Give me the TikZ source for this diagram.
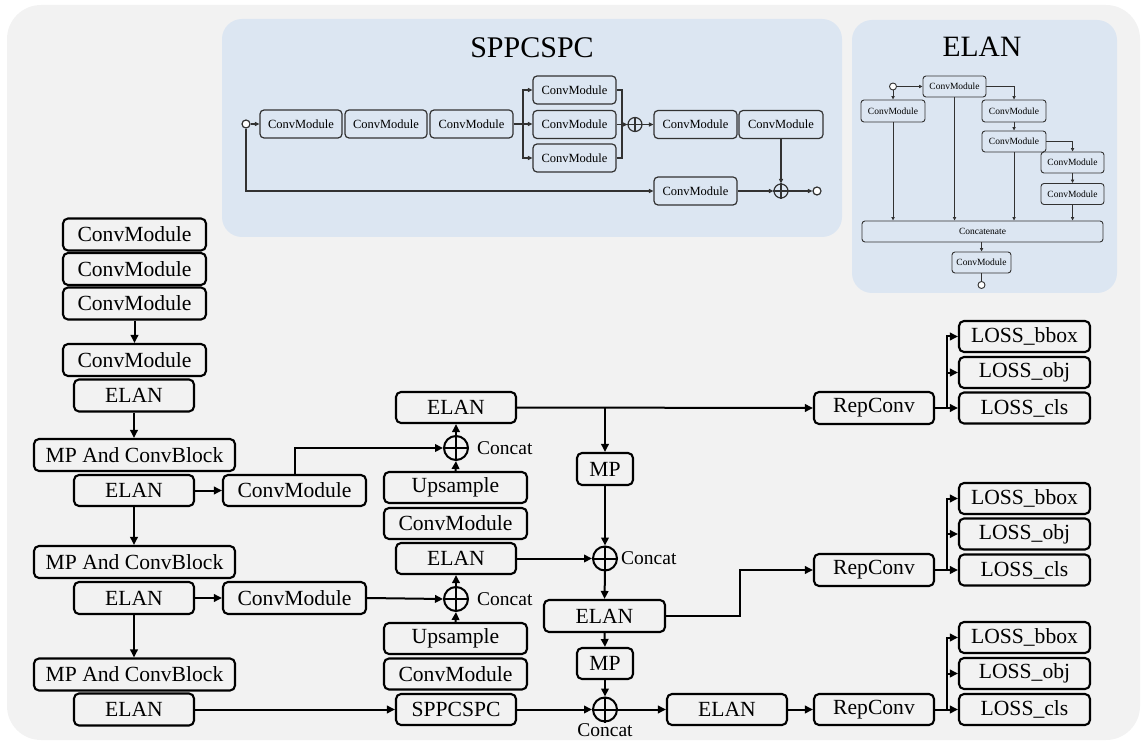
\documentclass[tikz,border=0pt]{standalone}
\usepackage{fontspec}
\setmainfont{Liberation Serif}
\usetikzlibrary{arrows.meta,calc}
\definecolor{bgc}{RGB}{242,242,242}
\definecolor{panelc}{RGB}{220,230,242}
\definecolor{pline}{RGB}{50,50,50}
\tikzset{
  mbox/.style={draw=black, fill=bgc, rounded corners=5pt, line width=2.1pt, inner sep=0pt,
    minimum height=31pt, font=\fontsize{21.6}{21.6}\selectfont},
  mline/.style={line width=2pt, draw=black},
  marr/.style={mline, -{Triangle[length=8pt,width=7.5pt]}},
  oplus/.style={circle, draw=black, line width=2pt, minimum size=24pt, inner sep=0pt},
  clabel/.style={font=\fontsize{19.5}{19.5}\selectfont, inner sep=0pt},
  pbox/.style={draw=pline, fill=panelc, rounded corners=4pt, line width=1.2pt, inner sep=0pt,
    minimum height=28pt, minimum width=83pt, font=\fontsize{12.5}{12.5}\selectfont},
  pline/.style={line width=1.2pt, draw=pline},
  parr/.style={pline, -{Triangle[length=4.5pt,width=4pt]}},
  poplus/.style={circle, draw=pline, line width=1.2pt, minimum size=14pt, inner sep=0pt},
  pio/.style={circle, draw=pline, fill=white, line width=1.2pt, minimum size=8pt, inner sep=0pt},
  ebox/.style={draw=pline, fill=panelc, rounded corners=3pt, line width=0.9pt, inner sep=0pt,
    minimum height=21pt, minimum width=63pt, font=\fontsize{9.5}{9.5}\selectfont},
  eline/.style={line width=0.9pt, draw=pline},
  earr/.style={eline, -{Triangle[length=3.5pt,width=3.2pt]}},
  eio/.style={circle, draw=pline, fill=white, line width=0.9pt, minimum size=7pt, inner sep=0pt},
}
\begin{document}
\begin{tikzpicture}[x=1pt,y=-1pt]
\useasboundingbox (0,0) rectangle (1146,743);
\fill[bgc, rounded corners=34pt] (7,5) rectangle (1140,740);

% ---------------- SPPCSPC panel ----------------
\fill[panelc, rounded corners=20pt] (222,19) rectangle (842,237);
\node[font=\fontsize{30}{30}\selectfont, inner sep=0pt] (spptitle) at (532,48) {SPPCSPC};
\node[pio] (pin) at (246,124) {};
\node[pbox, minimum width=82pt] (sa) at (301,124) {ConvModule};
\node[pbox, minimum width=82pt] (sb) at (386,124) {ConvModule};
\node[pbox] (sc) at (471.5,124) {ConvModule};
\node[pbox] (s1) at (574.5,90) {ConvModule};
\node[pbox] (s2) at (574.5,124.5) {ConvModule};
\node[pbox] (s3) at (574.5,158) {ConvModule};
\node[poplus] (sp) at (635,124.5) {};
\draw[pline] (sp.north)--(sp.south) (sp.west)--(sp.east);
\node[pbox] (sd) at (695.5,124.5) {ConvModule};
\node[pbox, minimum width=84pt] (se) at (781,124.5) {ConvModule};
\node[pbox] (sf) at (695.5,191) {ConvModule};
\node[poplus] (sq) at (781,191) {};
\draw[pline] (sq.north)--(sq.south) (sq.west)--(sq.east);
\node[pio] (pout) at (817,191) {};
\coordinate (sj) at (523,124);
\coordinate (sk) at (622,124.5);
\draw[parr] (pin) -- (sa.west);
\draw[pline] (sc.east) -- (sj);
\draw[parr] (sj) |- (s1.west);
\draw[parr] (sj) |- (s3.west);
\draw[parr] (sj) -- (s2.west |- sj);
\draw[pline] (s1.east) -| (sk);
\draw[pline] (s3.east) -| (sk);
\draw[parr] (s2.east) -- (sp.west);
\draw[parr] (sp.east) -- (sd.west);
\draw[parr] (se.south) -- (sq.north);
\draw[parr] (pin.south) |- (sf.west);
\draw[parr] (sf.east) -- (sq.west);
\draw[parr] (sq.east) -- (pout.west);

% ---------------- ELAN panel ----------------
\fill[panelc, rounded corners=20pt] (852,20) rectangle (1117,293);
\node[font=\fontsize{29.5}{29.5}\selectfont, inner sep=0pt] (elantitle) at (982,47) {ELAN};
\node[eio] (ein) at (893,86.5) {};
\node[ebox] (et) at (954.5,86.5) {ConvModule};
\node[ebox, minimum width=64pt, minimum height=22pt] (el) at (893,111) {ConvModule};
\node[ebox, minimum width=64pt, minimum height=22pt] (er1) at (1014,111) {ConvModule};
\node[ebox, minimum width=64pt] (er2) at (1014,141.5) {ConvModule};
\node[ebox] (er3) at (1072.5,162.5) {ConvModule};
\node[ebox] (er4) at (1072.5,194) {ConvModule};
\node[ebox, minimum width=241pt] (ecat) at (982.5,231.5) {Concatenate};
\node[ebox, minimum width=59pt] (eb) at (981.5,262.5) {ConvModule};
\node[eio] (eout) at (981.5,285) {};
\draw[earr] (ein.east) -- (et.west);
\draw[earr] (ein.south) -- (el.north);
\draw[earr] (et.east) -| (er1.north);
\draw[earr] (er1.south) -- (er2.north);
\draw[earr] (er2.east) -| (er3.north);
\draw[earr] (er3.south) -- (er4.north);
\draw[earr] (el.south) -- (el.south |- ecat.north);
\draw[earr] (et.south) -- (et.south |- ecat.north);
\draw[earr] (er2.south) -- (er2.south |- ecat.north);
\draw[earr] (er4.south) -- (er4.south |- ecat.north);
\draw[earr] (ecat.south -| eb) -- (eb.north);
\draw[eline] (eb.south) -- (eout.north);

% ---------------- Backbone ----------------
\node[mbox, minimum width=143pt, minimum height=32pt] (cm1) at (134.5,234.5) {ConvModule};
\node[mbox, minimum width=143pt, minimum height=32pt] (cm2) at (134.5,269) {ConvModule};
\node[mbox, minimum width=143pt, minimum height=32pt] (cm3) at (134.5,303.5) {ConvModule};
\node[mbox, minimum width=143pt, minimum height=32pt] (cm4) at (134.5,360) {ConvModule};
\node[mbox, minimum width=120pt, minimum height=32pt] (e1) at (134,395.5) {ELAN};
\node[mbox, minimum width=201pt, minimum height=32pt] (mp1) at (134.5,455) {MP And ConvBlock};
\node[mbox, minimum width=120pt] (e2) at (134,490.5) {ELAN};
\node[mbox, minimum width=143pt] (cmA) at (294.5,490.5) {ConvModule};
\node[mbox, minimum width=201pt, minimum height=32pt] (mp2) at (134.5,562) {MP And ConvBlock};
\node[mbox, minimum width=120pt, minimum height=32pt] (e3) at (134,598) {ELAN};
\node[mbox, minimum width=143pt, minimum height=32pt] (cmB) at (294.5,598) {ConvModule};
\node[mbox, minimum width=201pt, minimum height=32pt] (mp3) at (134.5,674.5) {MP And ConvBlock};
\node[mbox, minimum width=120pt, minimum height=32pt] (e4) at (134,709.5) {ELAN};

\draw[marr] (cm3.south) -- (cm4.north);
\draw[marr] (e1.south) -- (e1.south |- mp1.north);
\draw[marr] (e2.south) -- (e2.south |- mp2.north);
\draw[marr] (e3.south) -- (e3.south |- mp3.north);
\draw[marr] (e2.east) -- (cmA.west);
\draw[marr] (e3.east) -- (cmB.west);

% ---------------- Neck ----------------
\node[mbox, minimum width=120pt] (nT) at (456,407.5) {ELAN};
\node[oplus] (c1) at (456,448) {};
\node[mbox, minimum width=143pt] (up1) at (455.5,487.5) {Upsample};
\node[mbox, minimum width=143pt] (cu1) at (455.5,523.5) {ConvModule};
\node[mbox, minimum width=120pt] (nM) at (456,558.5) {ELAN};
\node[oplus] (c2) at (456,599) {};
\node[mbox, minimum width=143pt] (up2) at (455.5,638.5) {Upsample};
\node[mbox, minimum width=143pt] (cu2) at (455.5,674) {ConvModule};
\node[mbox, minimum width=120pt] (spp) at (456,709.5) {SPPCSPC};
\node[mbox, minimum width=56pt, minimum height=32pt] (mpA) at (605,469) {MP};
\node[oplus] (c3) at (605,558.5) {};
\node[mbox, minimum width=121pt, minimum height=32pt] (nR) at (604.5,616) {ELAN};
\node[mbox, minimum width=56pt] (mpB) at (605,663.5) {MP};
\node[oplus] (c4) at (605,709.5) {};
\node[mbox, minimum width=120pt] (nBR) at (727,709.5) {ELAN};
\foreach \c in {c1,c2,c3,c4}{
  \draw[mline] (\c.north) -- (\c.south) (\c.west) -- (\c.east);
}
\node[clabel, anchor=west] (l1) at ([xshift=8pt]c1.east) {Concat};
\node[clabel, anchor=west] (l2) at ([xshift=8pt]c2.east) {Concat};
\node[clabel, anchor=west] (l3) at ([xshift=3pt]c3.east) {Concat};
\node[clabel] (l4) at (605,730) {Concat};

\draw[marr] (cmA.north) |- (c1.west);
\draw[marr] (cmB.east) -- (c2.west);
\draw[marr] (e4.east) -- (spp.west);
\draw[marr] (up1.north) -- (c1.south);
\draw[marr] (c1.north) -- (nT.south);
\draw[marr] (up2.north) -- (c2.south);
\draw[marr] (c2.north) -- (nM.south);

% ---------------- Head ----------------
\node[mbox, minimum width=120pt, minimum height=32pt] (r1) at (874,408) {RepConv};
\node[mbox, minimum width=120pt, minimum height=32pt] (r2) at (874,570) {RepConv};
\node[mbox, minimum width=120pt] (r3) at (874,709.5) {RepConv};
\foreach \g/\yb/\yo/\yc in {1/336.5/372.5/408, 2/498.5/534/570, 3/637.5/673.5/709.5}{
  \node[mbox, minimum width=131pt] (bb\g) at (1024.5,\yb) {LOSS\_bbox};
  \node[mbox, minimum width=131pt] (ob\g) at (1024.5,\yo) {LOSS\_obj};
  \node[mbox, minimum width=131pt] (cl\g) at (1024.5,\yc) {LOSS\_cls};
  \coordinate (sj\g) at ([xshift=12pt]r\g.east);
  \draw[mline] (r\g.east) -- (sj\g);
  \draw[marr] (sj\g) |- (bb\g.west);
  \draw[marr] (sj\g) |- (ob\g.west);
  \draw[marr] (sj\g) -- (cl\g.west);
}

\coordinate (jT) at (mpA.north |- nT.east);
\draw[marr] (nT.east) -- (r1.west);
\draw[marr] (jT) -- (mpA.north);
\draw[marr] (mpA.south) -- (c3.north);
\draw[marr] (nM.east) -- (c3.west);
\draw[marr] (c3.south) -- (nR.north);
\draw[marr] (nR.south) -- (mpB.north);
\draw[marr] (mpB.south) -- (c4.north);
\draw[marr] (spp.east) -- (c4.west);
\draw[marr] (c4.east) -- (nBR.west);
\draw[marr] (nBR.east) -- (r3.west);
\coordinate (kR) at ([xshift=74pt]nR.east);
\draw[marr] (nR.east) -- (kR) |- (r2.west);
\end{tikzpicture}
\end{document}
